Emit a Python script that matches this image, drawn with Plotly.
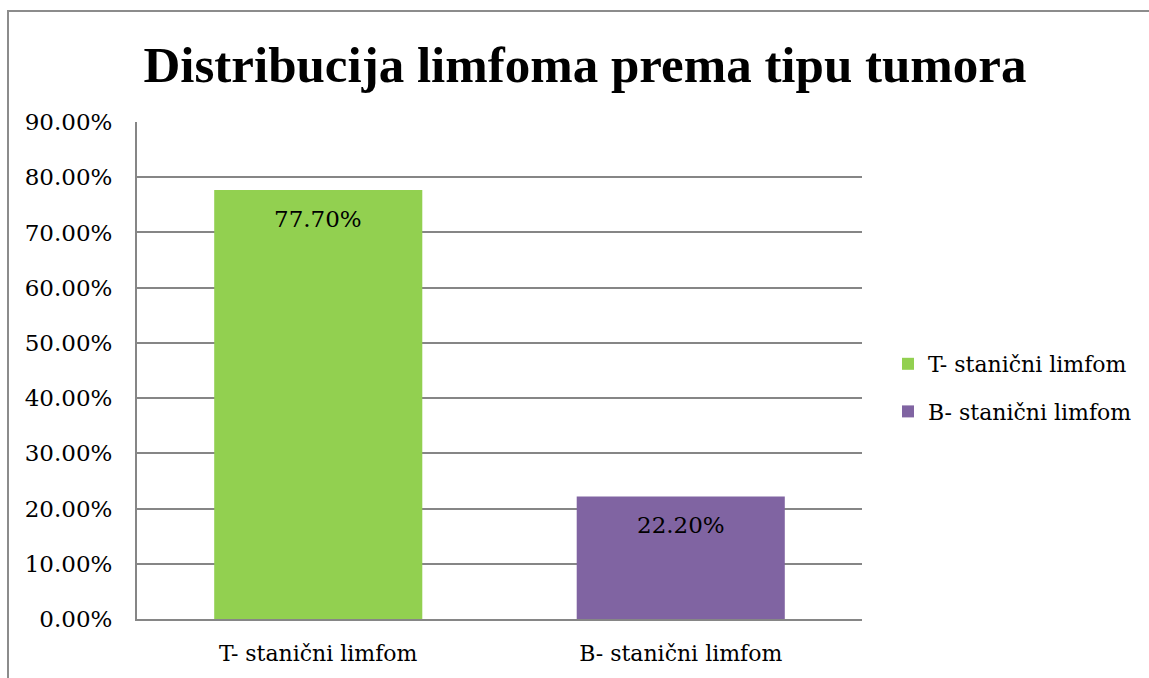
import plotly.graph_objects as go

categories = ["T- stanični limfom", "B- stanični limfom"]
values = [0.777, 0.222]
colors = ["#92D050", "#8064A2"]
y_ticks = [0, 0.1, 0.2, 0.3, 0.4, 0.5, 0.6, 0.7, 0.8, 0.9]

W, H = 1149, 678
L, R, T, B = 137, 862, 122, 619
pw, ph = R - L, B - T

fig = go.Figure()
for i, (cat, val, col) in enumerate(zip(categories, values, colors)):
    fig.add_trace(go.Bar(
        x=[cat], y=[val], name=cat, legendgroup=f"g{i}",
        marker=dict(color=col, line=dict(width=0)),
        width=0.574, hoverinfo="skip",
    ))
    fig.add_annotation(x=cat, y=val, text=f"{val:.2%}", showarrow=False,
                       yshift=-29, yanchor="middle", xanchor="center",
                       font=dict(color="#000000", size=23, family="DejaVu Serif"))

fig.add_shape(type="rect", xref="paper", yref="paper",
              x0=(8 - L) / pw, x1=(W + 20 - L) / pw,
              y0=(B - (H + 20)) / ph, y1=(B - 11) / ph,
              line=dict(color="#8C8C8C", width=2), fillcolor="rgba(0,0,0,0)", layer="below")

fig.update_layout(
    width=W, height=H,
    margin=dict(l=L, r=W - R, t=T, b=H - B, autoexpand=False),
    paper_bgcolor="white", plot_bgcolor="white",
    barmode="overlay",
    font=dict(family="DejaVu Serif", size=22, color="#000000"),
    title=dict(text="<b>Distribucija limfoma prema tipu tumora</b>",
               font=dict(family="Liberation Serif", size=51, color="#000000"),
               x=585 / W, xanchor="center", xref="container",
               y=1 - 64 / H, yanchor="middle", yref="container"),
    showlegend=True,
    legend=dict(x=(888 - L) / pw, y=(B - 388) / ph, xanchor="left", yanchor="middle",
                xref="paper", yref="paper",
                font=dict(family="DejaVu Serif", size=22, color="#000000"),
                itemsizing="constant", tracegroupgap=16, bgcolor="rgba(0,0,0,0)"),
    xaxis=dict(showgrid=False, showline=True, linecolor="#868686", linewidth=2,
               ticks="", tickfont=dict(size=22), ticklabelstandoff=14),
    yaxis=dict(range=[0, 0.9], tickvals=y_ticks, tickformat=".2%",
               showgrid=True, gridcolor="#868686", gridwidth=1.5,
               showline=True, linecolor="#868686", linewidth=2,
               zeroline=False, ticks="", tickfont=dict(size=23), ticklabelstandoff=18),
)

fig.write_html("out.html", config={"displayModeBar": False},
               post_script="document.body.style.margin='0px';document.body.style.overflow='hidden';")
